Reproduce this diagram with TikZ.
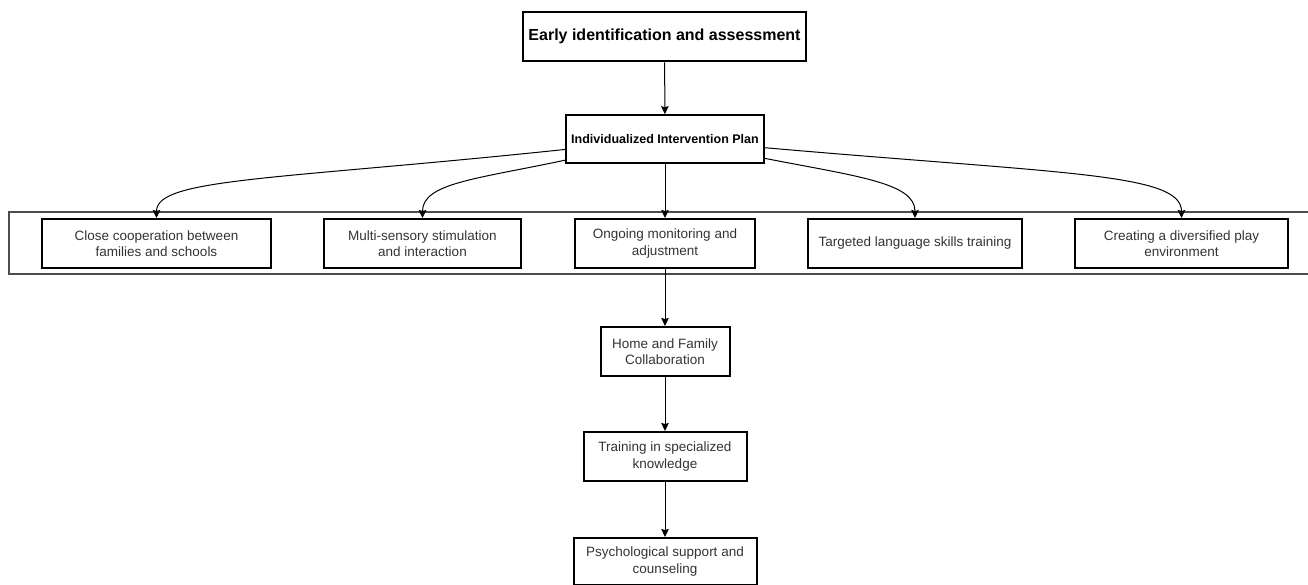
\documentclass[tikz,border=0pt]{standalone}
\usepackage{fontspec}
\setmainfont{Liberation Sans}
\usetikzlibrary{arrows.meta,positioning}

\begin{document}
\begin{tikzpicture}[x=1pt,y=1pt,>={Stealth[length=8pt,width=7.5pt,inset=1pt]},
    line width=1pt,node distance=105pt,
    top node/.style={draw,line width=2.6pt,minimum width=283pt,minimum height=49pt,inner sep=0pt,font=\fontsize{16}{19}\selectfont\bfseries},
    plan node/.style={draw,line width=1.6pt,minimum width=198pt,minimum height=48pt,inner sep=0pt,font=\fontsize{12.5}{15}\selectfont\bfseries},
    main node/.style={draw,line width=2pt,minimum height=49pt,inner sep=0pt,align=center,text=black!80,font=\fontsize{13.5}{16.5}\selectfont},
    band/.style={draw=black!70,line width=1.2pt}]

      \useasboundingbox (0,0) rectangle (1308,584);
      \draw[band] (9,372) rectangle (1316,310);

      \node[top node] (1) at (664.5,547.5) {Early identification and assessment};
      \node[plan node] (2) at (665,445) {Individualized Intervention Plan};
      \node[main node,minimum width=229pt] (3) at (156.5,340.5) {Close cooperation between\\families and schools};
      \node[main node,minimum width=197pt] (4) at (422.5,340.5) {Multi-sensory stimulation\\and interaction};
      \node[main node,minimum width=180pt] (5) at (665,340.5) {Ongoing monitoring and\\adjustment};
      \node[main node,minimum width=214pt] (6) at (915,340.5) {Targeted language skills training};
      \node[main node,minimum width=213pt] (7) at (1181.5,340.5) {Creating a diversified play\\environment};
      \node[main node,minimum width=129pt] (8) [below of=5,node distance=108pt] {Home and Family\\Collaboration};
      \node[main node,minimum width=163pt] (9) [below of=8] {Training in specialized\\knowledge};
      \node[main node,minimum width=183pt,minimum height=47pt] (10) [below of=9] {Psychological support and\\counseling};
      \path[->]
        (1) edge (2)
        (2) edge[out=186,in=90,out distance=290pt,in distance=40pt] (3)
        (2) edge[out=192,in=90,out distance=90pt,in distance=35pt] (4)
        (2) edge (5)
        (2) edge[out=-11,in=90,out distance=95pt,in distance=35pt] (6)
        (2) edge[out=-5,in=90,out distance=300pt,in distance=45pt] (7)
        (5) edge (8)
        (8) edge (9)
        (9) edge (10);
    \end{tikzpicture}
\end{document}
